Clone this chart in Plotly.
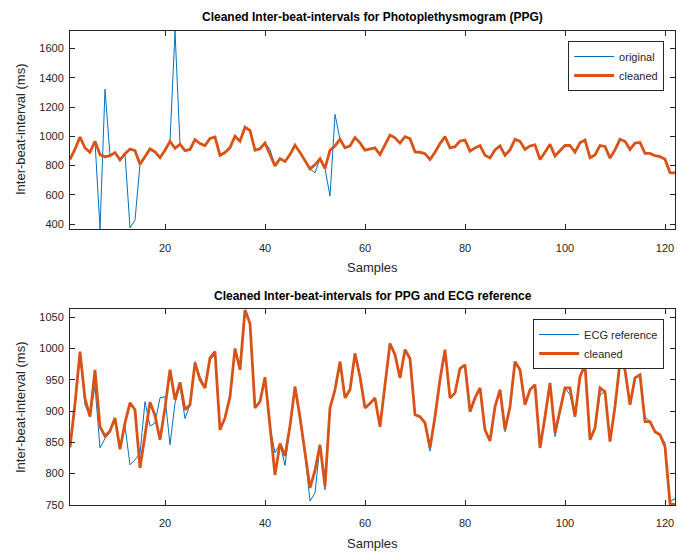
import plotly.graph_objects as go

samples = list(range(1, 123))

cleaned = [842, 912, 995, 920, 891, 966, 875, 860, 868, 889,
           839, 881, 913, 902, 809, 858, 914, 893, 854, 905,
           966, 918, 946, 902, 910, 977, 950, 937, 985, 995,
           870, 889, 923, 1000, 966, 1062, 1040, 905, 915, 954,
           875, 798, 848, 828, 876, 939, 890, 831, 777, 805,
           846, 780, 905, 934, 979, 921, 934, 992, 955, 905,
           912, 921, 875, 942, 1008, 990, 953, 998, 984, 894,
           891, 881, 841, 891, 950, 998, 921, 929, 968, 974,
           899, 921, 937, 870, 852, 907, 934, 870, 907, 979,
           966, 910, 934, 942, 841, 891, 945, 865, 899, 937,
           937, 891, 955, 974, 854, 873, 937, 931, 851, 907,
           979, 966, 910, 953, 958, 883, 883, 867, 862, 843,
           752, 750]

original = [842, 912, 995, 920, 891, 966, 366, 1322, 868, 889,
            839, 881, 374, 427, 809, 858, 914, 893, 854, 905,
            966, 1720, 946, 902, 910, 977, 950, 937, 985, 995,
            870, 889, 923, 1000, 966, 1062, 1040, 905, 915, 954,
            910, 798, 848, 828, 876, 939, 890, 831, 777, 750,
            846, 780, 591, 1150, 979, 921, 934, 992, 955, 905,
            912, 921, 875, 942, 1008, 990, 953, 998, 984, 894,
            891, 881, 841, 891, 950, 998, 921, 929, 968, 974,
            899, 921, 937, 870, 852, 907, 934, 870, 907, 979,
            966, 910, 934, 942, 841, 891, 945, 865, 899, 937,
            937, 891, 955, 974, 854, 873, 937, 931, 851, 907,
            979, 966, 910, 953, 958, 883, 883, 867, 862, 843,
            752, 750]

ecg_reference = [842, 905, 990, 910, 891, 940, 841, 856, 866, 889,
                 840, 876, 814, 822, 832, 915, 876, 881, 921, 923,
                 846, 913, 940, 888, 910, 979, 955, 937, 982, 990,
                 875, 889, 923, 1000, 966, 1060, 1040, 905, 915, 954,
                 875, 833, 848, 813, 876, 939, 890, 831, 756, 769,
                 846, 774, 905, 934, 979, 921, 934, 992, 955, 905,
                 912, 921, 875, 942, 1008, 990, 953, 998, 984, 894,
                 891, 881, 836, 891, 950, 998, 921, 929, 968, 974,
                 899, 921, 937, 870, 852, 907, 934, 867, 907, 979,
                 966, 910, 934, 942, 841, 891, 945, 859, 899, 937,
                 926, 891, 955, 974, 854, 873, 926, 931, 851, 907,
                 979, 966, 910, 953, 958, 891, 883, 867, 862, 849,
                 755, 760]

x_ticks = [20, 40, 60, 80, 100, 120]
top_y_ticks = [400, 600, 800, 1000, 1200, 1400, 1600]
bot_y_ticks = [750, 800, 850, 900, 950, 1000, 1050]

BLUE = "#0072BD"
ORANGE = "#D95319"
AX = "#262626"
FONT = "Liberation Sans, Arial, Helvetica, sans-serif"

fig = go.Figure()
fig.add_trace(go.Scatter(x=samples, y=original, mode="lines", name="original",
                         line=dict(color=BLUE, width=1), xaxis="x", yaxis="y", legend="legend"))
fig.add_trace(go.Scatter(x=samples, y=cleaned, mode="lines", name="cleaned",
                         line=dict(color=ORANGE, width=2.8), xaxis="x", yaxis="y", legend="legend"))
fig.add_trace(go.Scatter(x=samples, y=ecg_reference, mode="lines", name="ECG reference",
                         line=dict(color=BLUE, width=1), xaxis="x2", yaxis="y2", legend="legend2"))
fig.add_trace(go.Scatter(x=samples, y=cleaned, mode="lines", name="cleaned",
                         line=dict(color=ORANGE, width=2.8), xaxis="x2", yaxis="y2", legend="legend2"))

axis_common = dict(showline=True, linecolor=AX, linewidth=1, mirror="allticks",
                   ticks="inside", ticklen=5, tickwidth=1, tickcolor=AX,
                   showgrid=False, zeroline=False,
                   tickfont=dict(family=FONT, size=11, color=AX))

legend_common = dict(xanchor="right", yanchor="top", bgcolor="white",
                     bordercolor=AX, borderwidth=1, itemwidth=40,
                     font=dict(family=FONT, size=11, color=AX), tracegroupgap=0)

fig.update_layout(
    width=678, height=555,
    margin=dict(l=70, r=3, t=31, b=50),
    paper_bgcolor="white", plot_bgcolor="white",
    font=dict(family=FONT, size=11, color=AX),
    xaxis=dict(domain=[0, 1], anchor="y", range=[1, 122], tickvals=x_ticks,
               ticklabelstandoff=8, **axis_common),
    yaxis=dict(domain=[0.5816, 1], anchor="x", range=[364, 1720], tickvals=top_y_ticks,
               ticklabelstandoff=3, **axis_common),
    xaxis2=dict(domain=[0, 1], anchor="y2", range=[1, 122], tickvals=x_ticks,
                ticklabelstandoff=8, **axis_common),
    yaxis2=dict(domain=[0, 0.4129], anchor="x2", range=[749.7, 1062.8], tickvals=bot_y_ticks,
                ticklabelstandoff=3, **axis_common),
    legend=dict(x=0.982, y=1 - (41 - 31) / 474, **legend_common),
    legend2=dict(x=0.982, y=(505 - 319) / 474, **legend_common),
    showlegend=True,
)

annotations = [
    dict(text="<b>Cleaned Inter-beat-intervals for Photoplethysmogram (PPG)</b>",
         x=0.5, y=1 + (31 - 17) / 474, xref="paper", yref="paper",
         xanchor="center", yanchor="middle", showarrow=False,
         font=dict(family=FONT, size=12, color="black")),
    dict(text="<b>Cleaned Inter-beat-intervals for PPG and ECG reference</b>",
         x=0.5, y=(505 - 296) / 474, xref="paper", yref="paper",
         xanchor="center", yanchor="middle", showarrow=False,
         font=dict(family=FONT, size=12, color="black")),
    dict(text="Samples", x=0.5, y=(505 - 267) / 474, xref="paper", yref="paper",
         xanchor="center", yanchor="middle", showarrow=False,
         font=dict(family=FONT, size=13, color=AX)),
    dict(text="Samples", x=0.5, y=(505 - 543) / 474, xref="paper", yref="paper",
         xanchor="center", yanchor="middle", showarrow=False,
         font=dict(family=FONT, size=13, color=AX)),
    dict(text="Inter-beat-interval (ms)", x=(20 - 70) / 605, y=(505 - 130) / 474,
         xref="paper", yref="paper", xanchor="center", yanchor="middle",
         textangle=-90, showarrow=False, font=dict(family=FONT, size=13, color=AX)),
    dict(text="Inter-beat-interval (ms)", x=(20 - 70) / 605, y=(505 - 408) / 474,
         xref="paper", yref="paper", xanchor="center", yanchor="middle",
         textangle=-90, showarrow=False, font=dict(family=FONT, size=13, color=AX)),
]
fig.update_layout(annotations=annotations)

fig.write_html("out.html")
